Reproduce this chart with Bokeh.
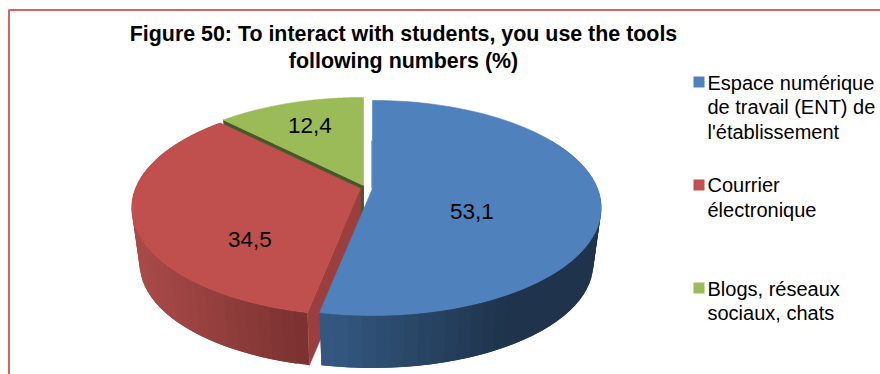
import numpy as np
from bokeh.plotting import figure
from bokeh.models import Range1d
from bokeh.core.properties import value
from bokeh.embed import file_html
from bokeh.resources import INLINE

# ---- data
categories = ["Espace numérique de travail (ENT) de l'établissement",
              "Courrier électronique", "Blogs, réseaux sociaux, chats"]
values = [53.1, 34.5, 12.4]
value_labels = ["53,1", "34,5", "12,4"]
title_lines = ["Figure 50: To interact with students, you use the tools",
               "following numbers (%)"]
legend_lines = [["Espace numérique", "de travail (ENT) de", "l'établissement"],
                ["Courrier", "électronique"],
                ["Blogs, réseaux", "sociaux, chats"]]

# ---- style and layout (page pixels)
top_colors = ["#4f81bd", "#c0504d", "#9bbb59"]
wall_left = [(0x33, 0x58, 0x80), (0xa8, 0x4b, 0x48), None]
wall_right = [(0x1f, 0x33, 0x4c), (0x78, 0x30, 0x2f), None]
wall_span = [(322, 500), (135, 306), None]
cut_red = "#9a3f3d"
cut_green = "#46572a"
apex_x = [372.0, 360.0, 363.0]
apex_y = [188.0, 188.0, 185.0]
Rx, Ry, K = 225.0, 104.0, 0.181
DEPTH, SHRINK = 57.0, 0.965
label_radius = [0.44, 0.50, 0.70]
label_dy = [19, 36, 0]
legend_y = [[82, 106, 131], [184, 209], [288, 312]]
swatch_y = [81.5, 184.5, 287.5]
W, H = 880, 374


def top_pt(i, deg, f=1.0):
    a = np.radians(deg)
    u, v = f * np.sin(a), -f * np.cos(a)
    w = 1 - K * v
    return apex_x[i] + Rx * u / w, apex_y[i] + Ry * v / w


def low_pt(i, deg, f=1.0):
    x, y = top_pt(i, deg, f)
    return apex_x[i] + SHRINK * (x - apex_x[i]), apex_y[i] + DEPTH + SHRINK * (y - apex_y[i])


def mix(c0, c1, t):
    t = min(1.0, max(0.0, t))
    return "#%02x%02x%02x" % tuple(int(round(a + (b - a) * t)) for a, b in zip(c0, c1))


edges = np.concatenate([[0.0], np.cumsum(values)]) * 3.6

p = figure(width=W, height=H, output_backend="svg", toolbar_location=None,
           x_range=Range1d(0, W), y_range=Range1d(H, 0), min_border=0,
           x_axis_location=None, y_axis_location=None, outline_line_color=None)
p.grid.visible = False
p.background_fill_color = "white"
p.border_fill_color = "white"

# chart border, only the top and left sides fall inside the picture
p.line([8.5, 8.5, 880], [374, 9.5, 9.5], line_color="#cf6766", line_width=2)


def poly(xs, ys, color, lw=0.6):
    p.patch(xs, ys, fill_color=color, line_color=color, line_width=lw)


def outer_wall(i, start, end):
    angs = np.linspace(start, end, 45)
    for a0, a1 in zip(angs[:-1], angs[1:]):
        # each strip reaches past its neighbour, which hides the seams
        a2 = min(end, a1 + (a1 - a0))
        x0, y0 = top_pt(i, a0)
        x1, y1 = top_pt(i, a2)
        x2, y2 = low_pt(i, a2)
        x3, y3 = low_pt(i, a0)
        lo, hi = wall_span[i]
        t = ((x0 + x1) / 2 - lo) / (hi - lo)
        p.patch([x0, x1, x2, x3], [y0, y1, y2, y3],
                fill_color=mix(wall_left[i], wall_right[i], t), line_color=None)


def top_face(i):
    angs = np.linspace(edges[i], edges[i + 1], 120)
    pts = [top_pt(i, a) for a in angs]
    poly([apex_x[i]] + [q[0] for q in pts], [apex_y[i]] + [q[1] for q in pts], top_colors[i])


# green: its cut walls show as a dark edge next to red
gx, gy = top_pt(2, edges[2])
lx, ly = low_pt(2, edges[2])
poly([apex_x[2], gx, lx, apex_x[2]], [apex_y[2], gy, ly, apex_y[2] + DEPTH], cut_green)
poly([apex_x[1], apex_x[2], apex_x[2], apex_x[1]],
     [apex_y[1], apex_y[2], apex_y[2] + DEPTH, apex_y[1] + DEPTH], cut_green)

# red: cut face, outer wall, top
rx_, ry_ = top_pt(1, edges[1])
rlx, rly = low_pt(1, edges[1])
outer_wall(1, edges[1], edges[2])
poly([apex_x[1], rx_, rlx, apex_x[1]], [apex_y[1], ry_, rly, apex_y[1] + DEPTH], cut_red)
top_face(1)
top_face(2)

# blue: outer wall and top
outer_wall(0, 60, edges[1])
bx, by = top_pt(0, 0)
p.line([bx - 0.5, bx - 0.5], [by + 40, apex_y[0]], line_color="#3f5f85", line_width=1)
top_face(0)

# value labels
for i, lab in enumerate(value_labels):
    mid = (edges[i] + edges[i + 1]) / 2
    lx_, ly_ = top_pt(i, mid, label_radius[i])
    p.text([float(lx_)], [float(ly_ + label_dy[i])], text=[lab],
           text_font=value("Liberation Sans"), text_font_size="22.5px",
           text_color="#000000", text_align="center", text_baseline="middle")

# title
for line, yy in zip(title_lines, [33, 60]):
    p.text([403.0], [float(yy)], text=[line],
           text_font=value("Liberation Sans"), text_font_style="bold",
           text_font_size="21.4px", text_color="#000000",
           text_align="center", text_baseline="middle")

# legend
for i, lines in enumerate(legend_lines):
    p.quad(left=[693.0], right=[704.0],
           top=[swatch_y[i] - 5.5], bottom=[swatch_y[i] + 5.5],
           fill_color=top_colors[i], line_color=None)
    for line, yy in zip(lines, legend_y[i]):
        p.text([707.0], [float(yy)], text=[line],
               text_font=value("Liberation Sans"), text_font_size="20px",
               text_color="#000000", text_align="left", text_baseline="middle")

open("out.html", "w").write(file_html(p, INLINE))
